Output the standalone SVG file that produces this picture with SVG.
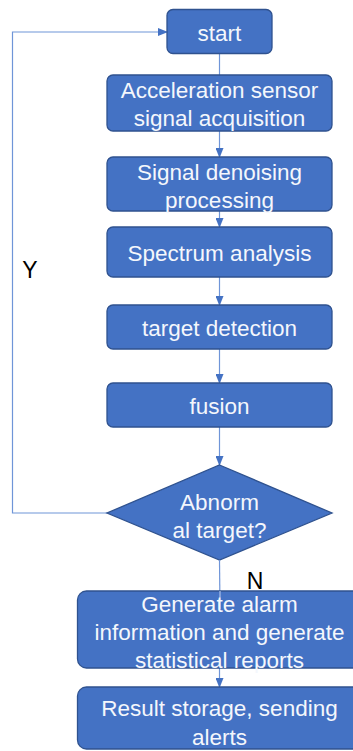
<svg xmlns="http://www.w3.org/2000/svg" width="353" height="751" viewBox="0 0 353 751">
<style>
.box{fill:#4472C4;stroke:#2F528F;stroke-width:1.3}
.t{font-family:"Liberation Sans",Arial,sans-serif;font-size:22.5px;fill:#F4F7FC;text-anchor:middle;dominant-baseline:central}
.lbl{font-family:"Liberation Sans",Arial,sans-serif;font-size:23px;fill:#000000;text-anchor:middle;dominant-baseline:central}
.c{fill:none;stroke:#6F95D8;stroke-width:1.2}
</style>
<defs>
<marker id="ah" markerWidth="10" markerHeight="8" refX="9" refY="4" orient="auto" markerUnits="userSpaceOnUse">
<path d="M0,0 L10,4 L0,8 Z" fill="#4472C4"/>
</marker>
</defs>
<rect width="353" height="751" fill="#FFFFFF"/>
<g id="connectors">
<line class="c" x1="219.5" y1="53" x2="219.5" y2="75"/>
<line class="c" x1="219.5" y1="131" x2="219.5" y2="157" marker-end="url(#ah)"/>
<line class="c" x1="219.5" y1="211" x2="219.5" y2="227" marker-end="url(#ah)"/>
<line class="c" x1="219.5" y1="277" x2="219.5" y2="305" marker-end="url(#ah)"/>
<line class="c" x1="219.5" y1="349" x2="219.5" y2="383" marker-end="url(#ah)"/>
<line class="c" x1="219.5" y1="427" x2="219.5" y2="465" marker-end="url(#ah)"/>
<line class="c" x1="219.5" y1="668" x2="219.5" y2="687" marker-end="url(#ah)"/>
<polyline class="c" points="107,513 12.5,513 12.5,32 167,32" marker-end="url(#ah)"/>
</g>
<g id="start">
<rect class="box" x="167" y="9.5" width="105" height="44" rx="6"/>
<text class="t" x="219.5" y="33">start</text>
</g>
<g id="acquisition">
<rect class="box" x="107" y="75" width="225" height="56" rx="6"/>
<text class="t" x="219.5" y="90">Acceleration sensor</text>
<text class="t" x="219.5" y="118">signal acquisition</text>
</g>
<g id="denoising">
<rect class="box" x="107" y="157" width="225" height="54" rx="6"/>
<text class="t" x="219.5" y="172">Signal denoising</text>
<text class="t" x="219.5" y="200">processing</text>
</g>
<g id="spectrum">
<rect class="box" x="107" y="227" width="225" height="50" rx="6"/>
<text class="t" x="219.5" y="253">Spectrum analysis</text>
</g>
<g id="detection">
<rect class="box" x="107" y="305" width="225" height="44" rx="6"/>
<text class="t" x="219.5" y="328">target detection</text>
</g>
<g id="fusion">
<rect class="box" x="107" y="383" width="225" height="44" rx="6"/>
<text class="t" x="219.5" y="406">fusion</text>
</g>
<g id="decision">
<polygon class="box" points="219.5,465 332,513 219.5,560 107,513"/>
<text class="t" x="219.5" y="502">Abnorm</text>
<text class="t" x="219.5" y="530">al target?</text>
</g>
<g id="alarm">
<line class="c" x1="219.5" y1="560" x2="220" y2="610"/>
<rect class="box" x="77.5" y="591" width="285" height="77" rx="9"/>
<line x1="220" y1="591" x2="220" y2="609" stroke="#A9C0EA" stroke-width="1.2"/>
<text class="t" x="219.5" y="604">Generate alarm</text>
<text class="t" x="219.5" y="632">information and generate</text>
<text class="t" x="219.5" y="660">statistical reports</text>
</g>
<g id="storage">
<rect class="box" x="77.5" y="687" width="285" height="62" rx="9"/>
<text class="t" x="219.5" y="708">Result storage, sending</text>
<text class="t" x="219.5" y="737">alerts</text>
</g>
<g id="labels">
<text class="lbl" x="30" y="270">Y</text>
<text class="lbl" x="255" y="581">N</text>
</g>
</svg>
